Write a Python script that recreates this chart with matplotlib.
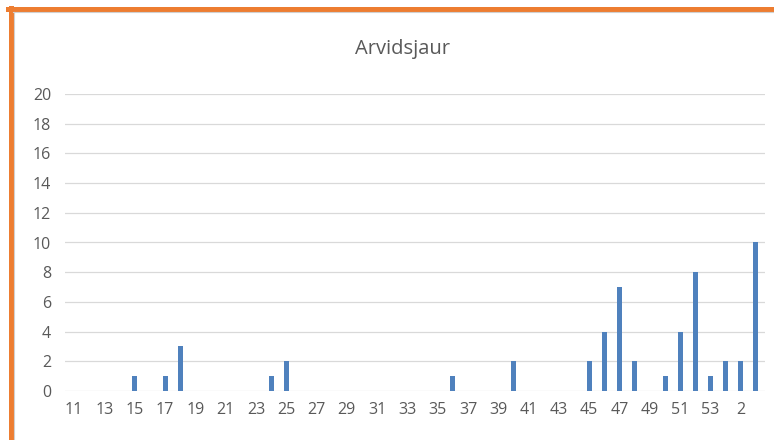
import matplotlib.pyplot as plt
from matplotlib.lines import Line2D

# week numbers and counts
weeks = list(range(11, 54)) + [1, 2, 3]
counts = [0, 0, 0, 0, 1, 0, 1, 3, 0, 0, 0, 0, 0, 1, 2, 0, 0, 0, 0, 0,
          0, 0, 0, 0, 0, 1, 0, 0, 0, 2, 0, 0, 0, 0, 2, 4, 7, 2, 0, 1,
          4, 8, 1, 2, 2, 10]
yticks = list(range(0, 21, 2))

plt.rcParams['font.family'] = ['Open Sans', 'DejaVu Sans']

fig = plt.figure(figsize=(7.74, 4.4), dpi=100)
ax = fig.add_axes([65 / 774, 1 - 391 / 440, 700 / 774, 297 / 440])

xs = range(len(weeks))
ax.bar(xs, counts, width=0.33, color='#4f81bd', zorder=3)

ax.set_xlim(-0.6, len(weeks) - 0.4)
ax.set_ylim(0, 20)
ax.set_yticks(yticks)
ax.set_xticks(list(xs)[::2])
ax.set_xticklabels([str(w) for w in weeks[::2]])
ax.grid(axis='y', color='#d9d9d9', linewidth=0.9, zorder=0)
for s in ax.spines.values():
    s.set_visible(False)
ax.tick_params(length=0, colors='#595959', labelsize=11.5)
ax.tick_params(axis='x', pad=8)
ax.tick_params(axis='y', pad=10)

fig.text(0.52, 1 - 49 / 440, 'Arvidsjaur', ha='center', va='center',
         fontsize=14.5, color='#595959')

# orange frame (top + left) with grey inner edge
fig.add_artist(Line2D([8 / 774, 1], [1 - 9.5 / 440] * 2, color='#ed7d31',
                      linewidth=3.6, transform=fig.transFigure))
fig.add_artist(Line2D([10.5 / 774] * 2, [0, 1 - 8 / 440], color='#ed7d31',
                      linewidth=3.6, transform=fig.transFigure))
fig.add_artist(Line2D([13 / 774, 1], [1 - 12.5 / 440] * 2, color='#d0d0d0',
                      linewidth=0.8, transform=fig.transFigure))
fig.add_artist(Line2D([13.5 / 774] * 2, [0, 1 - 12 / 440], color='#d0d0d0',
                      linewidth=0.8, transform=fig.transFigure))

fig.savefig('out.png', dpi=100)
